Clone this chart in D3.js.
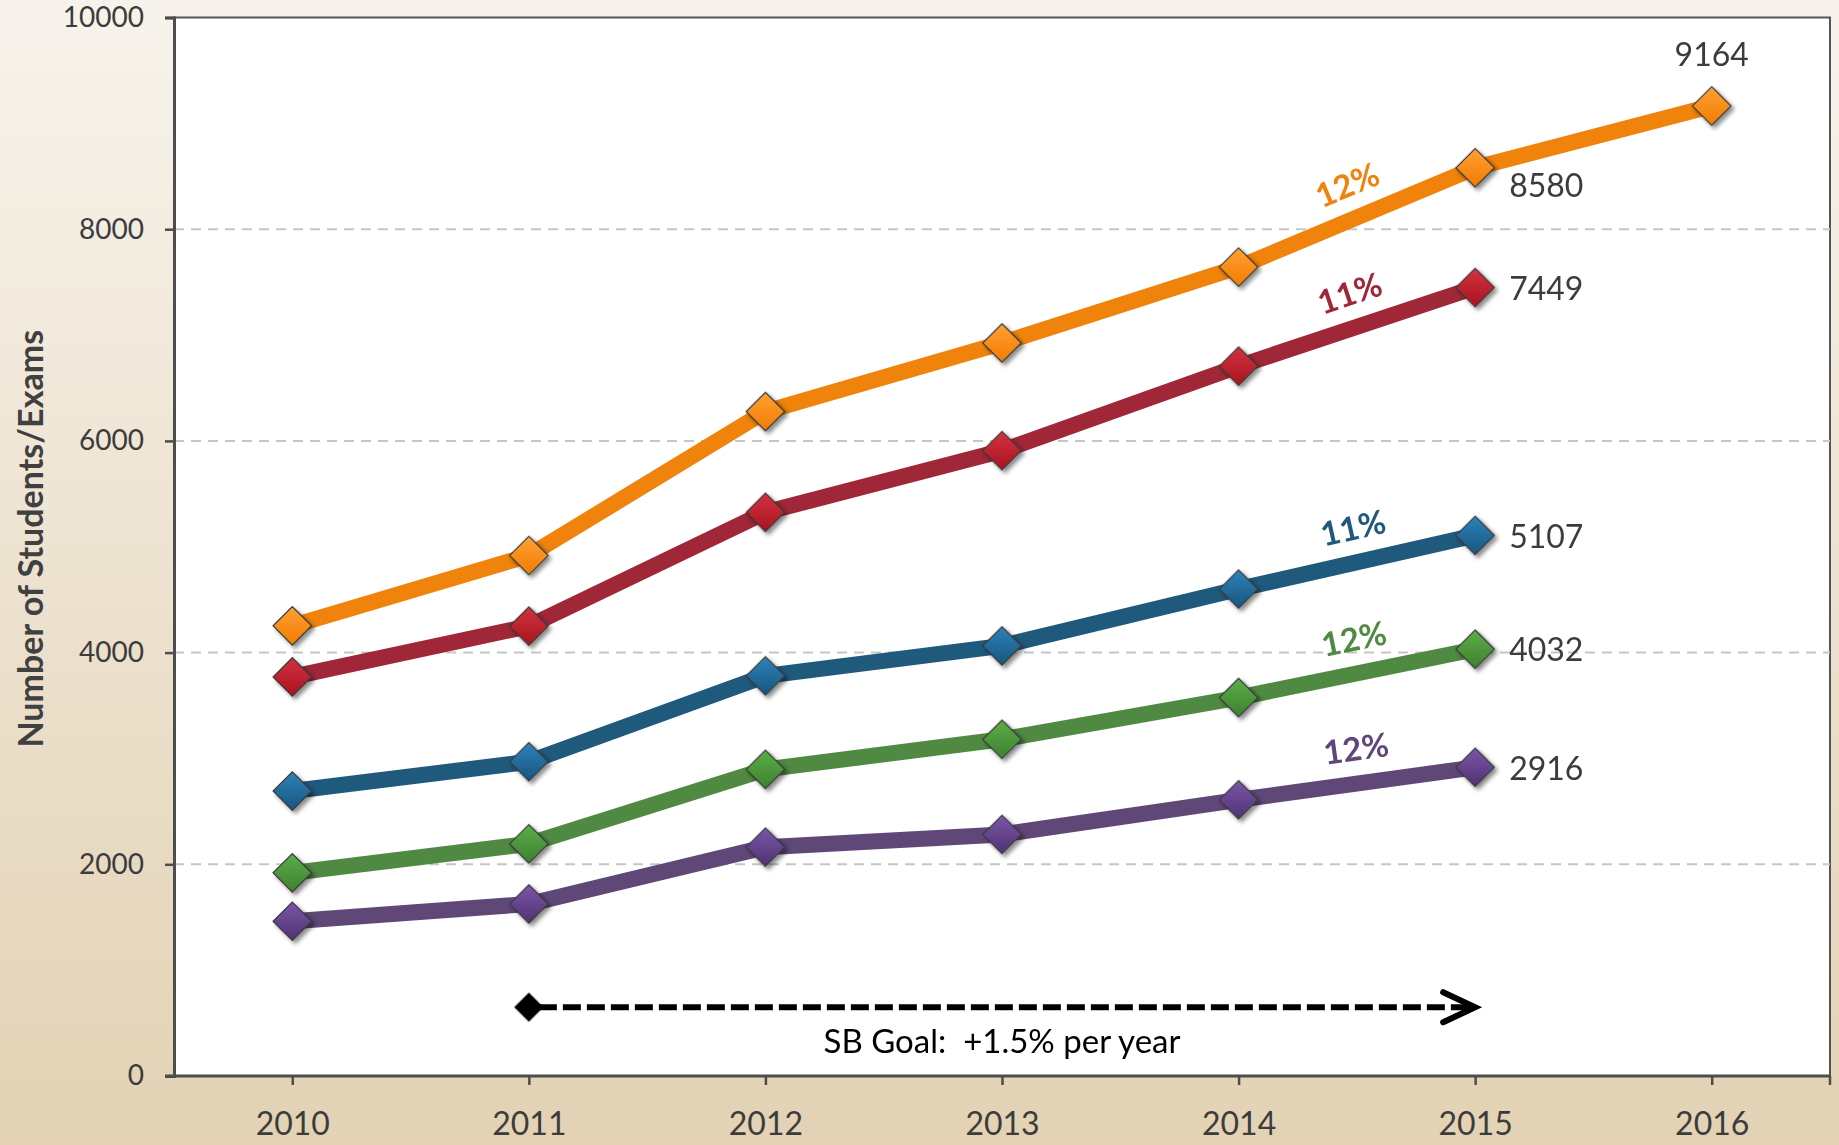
<!DOCTYPE html>
<html>
<head>
<meta charset="utf-8">
<script src="https://cdn.jsdelivr.net/npm/d3@7"></script>
<style>
  html, body { margin: 0; padding: 0; background: #fff; }
  svg { display: block; }
</style>
</head>
<body>
<div id="container"></div>
<script>
// values
const years = [2010, 2011, 2012, 2013, 2014, 2015, 2016];
const orangeVals = [4253, 4917, 6277, 6925, 7642, 8580, 9164];
const redVals    = [3770, 4250, 5325, 5908, 6706, 7449];
const blueVals   = [2692, 2969, 3780, 4063, 4600, 5107];
const greenVals  = [1919, 2193, 2897, 3181, 3575, 4032];
const purpleVals = [1462, 1625, 2162, 2282, 2609, 2916];
const growthLabels = ["12%", "11%", "11%", "12%", "12%"];
const yTicks = [0, 2000, 4000, 6000, 8000, 10000];
const yTitle = "Number of Students/Exams";
const goalText = "SB Goal:  +1.5% per year";
const goalYears = [2011, 2015];
const goalLevel = 650;

const width = 1839;
const height = 1145;
const plotLeft = 174, plotRight = 1830, plotTop = 17.5, plotBottom = 1076;

// line colour, marker light, marker dark
const palette = [
    ["#ef830b", "#ffa133", "#f27b00"],
    ["#a02737", "#d3323f", "#a8141f"],
    ["#1f5a7d", "#2f82b8", "#17557f"],
    ["#508a42", "#5cae47", "#3d8030"],
    ["#5f4878", "#7b55a8", "#4f3372"]
];

const series = [orangeVals, redVals, blueVals, greenVals, purpleVals].map((vals, i) => ({
    id: i,
    color: palette[i],
    growth: growthLabels[i],
    points: vals.map((v, j) => ({year: years[j], value: v}))
}));

const x = d3.scalePoint().domain(years).range([plotLeft, plotRight]).padding(0.5);
const y = d3.scaleLinear().domain([0, 10000]).range([plotBottom, plotTop]);

const svg = d3.create("svg")
    .attr("width", width)
    .attr("height", height)
    .attr("viewBox", [0, 0, width, height])
    .style("font-family", "Lato, 'Open Sans', sans-serif");

const defs = svg.append("defs");

const bg = defs.append("linearGradient")
    .attr("id", "bg").attr("x1", 0).attr("y1", 0).attr("x2", 0).attr("y2", 1);
bg.append("stop").attr("offset", "0%").attr("stop-color", "#f7f3ec");
bg.append("stop").attr("offset", "100%").attr("stop-color", "#e3d2b4");

series.forEach(s => {
    const g = defs.append("linearGradient")
        .attr("id", "mk" + s.id)
        .attr("x1", 0).attr("y1", 0).attr("x2", 1).attr("y2", 1);
    g.append("stop").attr("offset", "0%").attr("stop-color", s.color[1]);
    g.append("stop").attr("offset", "100%").attr("stop-color", s.color[2]);
});

defs.append("filter")
    .attr("id", "shadow")
    .attr("x", "-50%").attr("y", "-50%").attr("width", "200%").attr("height", "200%")
    .append("feDropShadow")
    .attr("dx", 3).attr("dy", 3).attr("stdDeviation", 2)
    .attr("flood-color", "#000").attr("flood-opacity", 0.45);

// page background + white plot area
svg.append("rect")
    .attr("width", width).attr("height", height)
    .attr("fill", "url(#bg)");

svg.append("rect")
    .attr("x", plotLeft).attr("y", plotTop)
    .attr("width", plotRight - plotLeft).attr("height", plotBottom - plotTop)
    .attr("fill", "#fff")
    .attr("stroke", "#555")
    .attr("stroke-width", 2);

// dashed gridlines
svg.append("g")
    .selectAll("line")
    .data(yTicks.filter(d => d > 0 && d < 10000))
    .join("line")
    .attr("x1", plotLeft).attr("x2", plotRight)
    .attr("y1", d => y(d)).attr("y2", d => y(d))
    .attr("stroke", "#c6c6c6")
    .attr("stroke-width", 2)
    .attr("stroke-dasharray", "10,7");

// axes
const yAxis = svg.append("g")
    .attr("transform", `translate(${plotLeft},0)`)
    .call(d3.axisLeft(y).tickValues(yTicks).tickSize(9).tickPadding(21).tickFormat(d3.format("d")));

const xAxis = svg.append("g")
    .attr("transform", `translate(0,${plotBottom})`)
    .call(d3.axisBottom(x).tickSize(9).tickPadding(27).tickFormat(d3.format("d")));

[yAxis, xAxis].forEach(a => {
    a.select(".domain").attr("stroke", "#4d4d4d").attr("stroke-width", 3);
    a.selectAll(".tick line").attr("stroke", "#4d4d4d").attr("stroke-width", 2.5);
    a.selectAll(".tick text").attr("fill", "#3c3c3c").style("font-family", "Lato, 'Open Sans', sans-serif");
});
yAxis.selectAll(".tick text").style("font-size", "28px");
xAxis.selectAll(".tick text").style("font-size", "32px");
xAxis.select(".domain").attr("d", `M${plotLeft - 9},0H${plotRight}`);
xAxis.append("line")
    .attr("x1", plotRight).attr("x2", plotRight).attr("y1", 0).attr("y2", 9)
    .attr("stroke", "#4d4d4d").attr("stroke-width", 2.5);

svg.append("text")
    .attr("transform", `translate(31,${(plotTop + plotBottom) / 2 - 8}) rotate(-90)`)
    .attr("text-anchor", "middle")
    .attr("dy", "0.35em")
    .attr("fill", "#404040")
    .style("font-size", "34px")
    .style("font-weight", "bold")
    .text(yTitle);

// lines
const line = d3.line()
    .x(d => x(d.year))
    .y(d => y(d.value));

svg.append("g")
    .selectAll("path")
    .data(series)
    .join("path")
    .attr("fill", "none")
    .attr("stroke", d => d.color[0])
    .attr("stroke-width", 16)
    .attr("stroke-linejoin", "round")
    .attr("d", d => line(d.points));

// diamond markers
const diamond = d3.symbol().type(d3.symbolSquare).size(740);

series.forEach(s => {
    svg.append("g")
        .attr("filter", "url(#shadow)")
        .selectAll("path")
        .data(s.points)
        .join("path")
        .attr("transform", d => `translate(${x(d.year)},${y(d.value)}) rotate(45)`)
        .attr("d", diamond)
        .attr("fill", `url(#mk${s.id})`)
        .attr("stroke", "#3a3a3a")
        .attr("stroke-width", 1.2);
});

// growth labels along the 2014-2015 segment
series.forEach(s => {
    const a = s.points.find(p => p.year === 2014);
    const b = s.points.find(p => p.year === 2015);
    const x1 = x(a.year), y1 = y(a.value), x2 = x(b.year), y2 = y(b.value);
    const ang = Math.atan2(y2 - y1, x2 - x1);
    const off = 35;
    const cx = (x1 + x2) / 2 + Math.sin(ang) * off + 4;
    const cy = (y1 + y2) / 2 - Math.cos(ang) * off;
    svg.append("text")
        .attr("transform", `translate(${cx},${cy}) rotate(${ang * 180 / Math.PI})`)
        .attr("text-anchor", "middle")
        .attr("dy", "0.35em")
        .attr("fill", s.color[0])
        .style("font-size", "33px")
        .style("font-weight", "bold")
        .text(s.growth);
});

// value labels
series.forEach(s => {
    const p = s.points.find(d => d.year === 2015);
    const dy = s.id === 0 ? 18 : 1;
    svg.append("text")
        .attr("x", x(p.year) + 34)
        .attr("y", y(p.value) + dy)
        .attr("dy", "0.35em")
        .attr("fill", "#3c3c3c")
        .style("font-size", "32px")
        .text(p.value);
});
const last = series[0].points[series[0].points.length - 1];
svg.append("text")
    .attr("x", x(last.year))
    .attr("y", y(last.value) - 51)
    .attr("dy", "0.35em")
    .attr("text-anchor", "middle")
    .attr("fill", "#3c3c3c")
    .style("font-size", "32px")
    .text(last.value);

// goal arrow
const gx1 = x(goalYears[0]), gx2 = x(goalYears[1]), gy = y(goalLevel);
const goal = svg.append("g");
goal.append("line")
    .attr("x1", gx1 + 10).attr("x2", gx2 - 4)
    .attr("y1", gy).attr("y2", gy)
    .attr("stroke", "#000")
    .attr("stroke-width", 6)
    .attr("stroke-dasharray", "18,6");
goal.append("path")
    .attr("transform", `translate(${gx1},${gy}) rotate(45)`)
    .attr("d", d3.symbol().type(d3.symbolSquare).size(430))
    .attr("fill", "#000");
goal.append("path")
    .attr("d", `M${gx2 - 32},${gy - 15}L${gx2},${gy}L${gx2 - 32},${gy + 15}`)
    .attr("fill", "none")
    .attr("stroke", "#000")
    .attr("stroke-width", 6)
    .attr("stroke-linecap", "round")
    .attr("stroke-linejoin", "miter");
goal.append("text")
    .attr("x", (gx1 + gx2) / 2)
    .attr("y", gy + 34)
    .attr("dy", "0.35em")
    .attr("text-anchor", "middle")
    .attr("fill", "#000")
    .style("font-size", "33px")
    .style("white-space", "pre")
    .text(goalText);

d3.select("#container").append(() => svg.node());
</script>
</body>
</html>
